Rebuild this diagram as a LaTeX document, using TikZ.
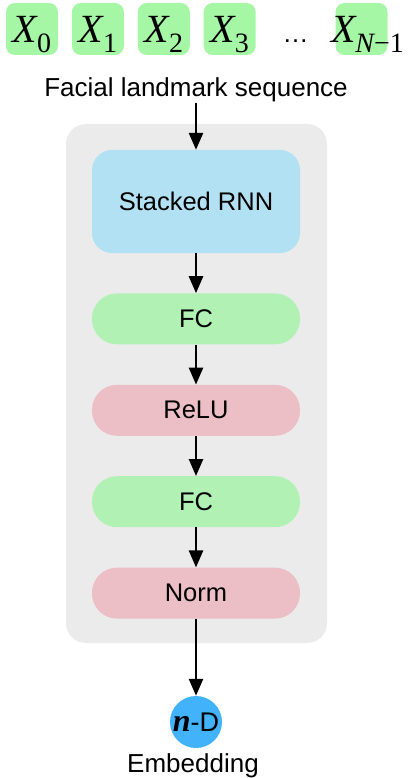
\documentclass[tikz,border=0pt]{standalone}
\usepackage{fontspec}
\setmainfont{Liberation Sans}
\newfontfamily\tokfont{Liberation Serif}
\usetikzlibrary{positioning, arrows.meta}

\definecolor{tokgreen}{RGB}{165,247,165}
\definecolor{fcgreen}{RGB}{177,242,180}
\definecolor{relupink}{RGB}{236,190,198}
\definecolor{rnnblue}{RGB}{178,225,243}
\definecolor{panelgray}{RGB}{235,235,235}
\definecolor{embblue}{RGB}{66,178,250}

% one input token X with its index
\newcommand{\xtok}[1]{{\tokfont\itshape\fontsize{40}{40}\selectfont X\raisebox{-10pt}{\fontsize{28}{28}\selectfont #1}}}

\tikzset{
>={Triangle[length=17pt,width=14pt]}, % filled heads on all links
flow/.style={->, line width=2.6pt}, % the links between the layers
tok/.style={fill=tokgreen, rounded corners=9pt, minimum width=52pt, minimum height=52pt, inner sep=0pt, text height=28pt, text depth=0pt}, % input tokens
block/.style={minimum width=208pt, inner sep=0pt, font=\fontsize{25.5}{25.5}\selectfont}, % every layer box
layer/.style={block, minimum height=51pt, rounded corners=25pt}, % pill shaped layers
caption/.style={inner sep=0pt, font=\fontsize{26}{26}\selectfont},
}

\begin{document}
\begin{tikzpicture}[x=1pt, y=-1pt]
    \useasboundingbox (0,0) rectangle (407,778);

    % input sequence
    \node[tok] (x0) at (32,29) {\xtok{\upshape 0}};
    \node[tok, right=13.5pt of x0] (x1) {\xtok{\upshape 1}};
    \node[tok, right=13.5pt of x1] (x2) {\xtok{\upshape 2}};
    \node[tok, right=13.5pt of x2] (x3) {\xtok{\upshape 3}};
    \node[tok, fill=none, right=13.5pt of x3] (dots) {\fontsize{26}{26}\selectfont\textellipsis};
    \node[tok, right=13.5pt of dots] (xn) {\makebox[0pt]{\hspace{12pt}\xtok{N\upshape −1}}};
    \node[caption, anchor=base] (seq) at (196,97) {Facial landmark sequence};

    % network
    \node[fill=panelgray, rounded corners=20pt, minimum width=261pt, minimum height=519pt, inner sep=0pt] (stack) at (196.5,383.5) {};
    \node[block, fill=rnnblue, minimum height=103pt, rounded corners=20pt] (rnn) at (196,201.5) {Stacked RNN};
    \node[layer, fill=fcgreen, below=40pt of rnn] (fc1) {FC};
    \node[layer, fill=relupink, below=40pt of fc1] (relu) {ReLU};
    \node[layer, fill=fcgreen, below=40pt of relu] (fc2) {FC};
    \node[layer, fill=relupink, below=40pt of fc2] (norm) {Norm};

    % output
    \node[circle, fill=embblue, minimum size=52pt, inner sep=0pt, below=77pt of norm] (emb) {{\tokfont\bfseries\itshape\fontsize{32}{32}\selectfont n}{\fontsize{27}{27}\selectfont -D}};
    \node[caption, below=5pt of emb, xshift=-3pt] (embtext) {Embedding};

    \draw[flow]
    (seq) edge (rnn)
    (rnn) edge (fc1)
    (fc1) edge (relu)
    (relu) edge (fc2)
    (fc2) edge (norm)
    (norm) edge (emb);
\end{tikzpicture}
\end{document}
